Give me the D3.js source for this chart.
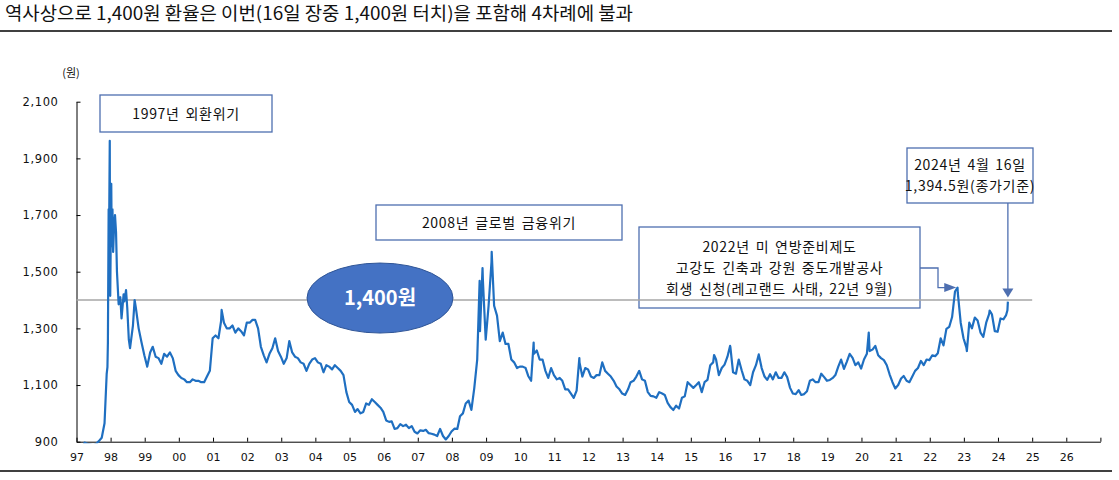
<!DOCTYPE html>
<html>
<head>
<meta charset="utf-8">
<script src="https://cdn.jsdelivr.net/npm/d3@7"></script>
<style>
  body { margin: 0; background: #fff; }
  text { font-family: "Noto Sans CJK KR", sans-serif; }
</style>
</head>
<body>
<svg id="chart"></svg>
<script>
// 원/달러 환율, 월말 기준 (1997~2024.3)
const firstYear = 1997;
const monthlyRates = [
  [861, 864, 897, 892, 891, 888, 892, 902, 914, 965, 1163, 1415],
  [1570, 1640, 1385, 1335, 1395, 1373, 1230, 1310, 1373, 1300, 1250, 1205],
  [1165, 1215, 1235, 1200, 1195, 1175, 1210, 1200, 1215, 1195, 1150, 1135],
  [1125, 1120, 1110, 1110, 1120, 1115, 1115, 1110, 1110, 1130, 1150, 1265],
  [1275, 1265, 1325, 1320, 1300, 1300, 1310, 1285, 1300, 1290, 1275, 1320],
  [1320, 1330, 1330, 1300, 1235, 1205, 1180, 1210, 1230, 1265, 1220, 1200],
  [1175, 1195, 1255, 1215, 1200, 1195, 1180, 1175, 1150, 1175, 1190, 1195],
  [1180, 1175, 1145, 1170, 1165, 1155, 1170, 1160, 1150, 1135, 1075, 1040],
  [1030, 1005, 1015, 1000, 1005, 1035, 1030, 1050, 1040, 1030, 1020, 1005],
  [975, 970, 972, 945, 948, 962, 955, 960, 948, 955, 935, 929],
  [940, 938, 942, 930, 928, 925, 920, 945, 920, 908, 920, 936],
  [946, 945, 990, 1000, 1035, 1045, 1012, 1090, 1190, 1290, 1470, 1260],
  [1380, 1535, 1380, 1345, 1255, 1285, 1245, 1245, 1190, 1180, 1160, 1165],
  [1165, 1160, 1132, 1115, 1210, 1222, 1190, 1190, 1150, 1125, 1160, 1135],
  [1120, 1125, 1115, 1085, 1085, 1070, 1055, 1080, 1180, 1130, 1160, 1155],
  [1130, 1125, 1135, 1135, 1180, 1150, 1140, 1130, 1115, 1095, 1085, 1070],
  [1065, 1085, 1110, 1115, 1130, 1150, 1120, 1115, 1075, 1062, 1060, 1055],
  [1075, 1070, 1065, 1037, 1022, 1012, 1027, 1017, 1055, 1060, 1110, 1100],
  [1090, 1100, 1110, 1075, 1110, 1118, 1170, 1180, 1190, 1135, 1160, 1172],
  [1200, 1235, 1145, 1140, 1190, 1152, 1120, 1115, 1100, 1145, 1170, 1208],
  [1160, 1130, 1118, 1138, 1120, 1145, 1125, 1125, 1145, 1128, 1090, 1070],
  [1068, 1082, 1065, 1068, 1078, 1115, 1120, 1110, 1110, 1140, 1128, 1115],
  [1118, 1125, 1135, 1165, 1190, 1157, 1182, 1210, 1196, 1170, 1180, 1158],
  [1190, 1210, 1220, 1225, 1238, 1205, 1195, 1188, 1170, 1138, 1110, 1088],
  [1100, 1123, 1132, 1115, 1110, 1130, 1150, 1160, 1185, 1170, 1190, 1188],
  [1205, 1202, 1212, 1265, 1240, 1298, 1305, 1340, 1430, 1425, 1320, 1265],
  [1232, 1320, 1300, 1338, 1328, 1285, 1270, 1320, 1350, 1350, 1290, 1288],
  [1335, 1332, 1347]
];

// 급등락 구간의 일별 값
const spikeDates = [
  "1997-11-20", "1997-12-03", "1997-12-11", "1997-12-15", "1997-12-23", "1997-12-26",
  "1998-01-08", "1998-01-13", "1998-01-21", "1998-02-06", "1998-02-17", "1998-03-10",
  "1998-04-15", "1998-05-20", "1998-06-15", "1998-07-15", "1998-09-15",
  "2001-04-03", "2008-10-24", "2008-11-24", "2009-03-02", "2010-05-25", "2011-09-26",
  "2015-09-07", "2016-02-25", "2020-03-19", "2022-10-25", "2023-02-02", "2023-10-04",
  "2024-04-11", "2024-04-16"
];
const spikeRates = [
  1139, 1250, 1720, 1600, 1962, 1500,
  1810, 1590, 1720, 1650, 1700, 1500,
  1410, 1420, 1435, 1260, 1400,
  1365, 1468, 1513, 1570, 1250, 1195,
  1206, 1238, 1285, 1444, 1220, 1363,
  1364, 1394.5
];

const rateTicks = [900, 1100, 1300, 1500, 1700, 1900, 2100];
const yearTickLabels = ["97", "98", "99", "00", "01", "02", "03", "04", "05", "06", "07", "08",
  "09", "10", "11", "12", "13", "14", "15", "16", "17", "18", "19", "20", "21", "22", "23",
  "24", "25", "26", ""];

const refRate = 1400;
const lastDate = "2024-04-16";
const lastRate = 1394.5;
const legoDate = "2022-10-01";
const legoRate = 1444;

const titleText = "역사상으로 1,400원 환율은 이번(16일 장중 1,400원 터치)을 포함해 4차례에 불과";
const notes = [
  { lines: ["1997년 외환위기"], box: [100, 95, 172, 37] },
  { lines: ["2008년 글로벌 금융위기"], box: [376, 205, 246, 35] },
  { lines: ["2022년 미 연방준비제도", "고강도 긴축과 강원 중도개발공사", "회생 신청(레고랜드 사태, 22년 9월)"], box: [639, 227, 281, 81] },
  { lines: ["2024년 4월 16일", "1,394.5원(종가기준)"], box: [907, 148, 126, 55] }
];

const width = 1119, height = 480;
const svg = d3.select('#chart').attr('width', width).attr('height', height);

const parse = d3.timeParse('%Y-%m-%d');
const points = [];
monthlyRates.forEach((row, i) => {
  row.forEach((v, m) => points.push({ date: new Date(firstYear + i, m, 28), rate: v }));
});
spikeDates.forEach((d, i) => points.push({ date: parse(d), rate: spikeRates[i] }));
points.sort((a, b) => a.date - b.date);

const x = d3.scaleTime()
  .domain([new Date(1997, 0, 1), new Date(2027, 0, 1)])
  .range([76.5, 1100.4]);
const y = d3.scaleLinear().domain([900, 2100]).range([441.7, 101.7]);

// 제목
svg.append('text')
  .attr('x', 5).attr('y', 20)
  .attr('font-size', 18)
  .attr('textLength', 628).attr('lengthAdjust', 'spacingAndGlyphs')
  .attr('fill', '#111')
  .text(titleText);
svg.append('line').attr('x1', 0).attr('x2', 1112).attr('y1', 31).attr('y2', 31)
  .attr('stroke', '#000').attr('stroke-width', 1.5);
svg.append('line').attr('x1', 0).attr('x2', 1112).attr('y1', 471).attr('y2', 471)
  .attr('stroke', '#000').attr('stroke-width', 1.5);

// 축
const yearTicks = yearTickLabels.map((_, i) => new Date(firstYear + i, 0, 1));
const xAxis = svg.append('g')
  .attr('transform', `translate(0,${y(900)})`)
  .call(d3.axisBottom(x).tickValues(yearTicks).tickSize(-4).tickSizeOuter(0).tickPadding(12)
    .tickFormat((d, i) => yearTickLabels[i]));
const yAxis = svg.append('g')
  .attr('transform', `translate(${x(new Date(1997, 0, 1))},0)`)
  .call(d3.axisLeft(y).tickValues(rateTicks).tickSize(-4).tickSizeOuter(0).tickPadding(18)
    .tickFormat(d3.format(',')));
[xAxis, yAxis].forEach(g => {
  g.attr('font-family', '"DejaVu Sans", sans-serif').attr('font-size', 11);
  g.selectAll('text').attr('fill', '#111').style('font-family', '"DejaVu Sans", sans-serif');
  g.selectAll('path, line').attr('stroke', '#000');
});
yAxis.selectAll('text').attr('font-size', 11.5).attr('letter-spacing', '0.6px');

svg.append('text').attr('x', 71).attr('y', 77).attr('text-anchor', 'middle')
  .attr('font-size', 11).attr('fill', '#111').text('(원)');

// 주석 박스
const boxColor = '#4e6fb0';
notes.forEach(n => {
  const [bx, by, bw, bh] = n.box;
  svg.append('rect').attr('x', bx).attr('y', by).attr('width', bw).attr('height', bh)
    .attr('fill', '#fff').attr('stroke', boxColor).attr('stroke-width', 1.3);
  const gap = 21;
  const cy = by + bh / 2 - (n.lines.length - 1) * gap / 2;
  n.lines.forEach((t, i) => {
    svg.append('text').attr('x', bx + bw / 2).attr('y', cy + i * gap).attr('dy', '0.36em')
      .attr('text-anchor', 'middle').attr('font-size', 14).attr('letter-spacing', '0.7px')
      .attr('word-spacing', '2px').attr('fill', '#111').text(t);
  });
});

// 1,400원 기준선
svg.append('line')
  .attr('x1', x(new Date(1997, 0, 1))).attr('x2', x(new Date(2025, 0, 1)))
  .attr('y1', y(refRate)).attr('y2', y(refRate))
  .attr('stroke', '#a6a6a6').attr('stroke-width', 1.6);

// 환율 선
svg.append('clipPath').attr('id', 'plot-clip').append('rect')
  .attr('x', 76).attr('y', 90).attr('width', 1030).attr('height', y(900) - 90 + 1.5);
svg.append('path').datum(points)
  .attr('clip-path', 'url(#plot-clip)')
  .attr('fill', 'none')
  .attr('stroke', '#1f6fc1')
  .attr('stroke-width', 2.2)
  .attr('stroke-linejoin', 'round')
  .attr('d', d3.line().x(d => x(d.date)).y(d => y(d.rate)));

// 1,400원 타원
svg.append('ellipse').attr('cx', 380).attr('cy', y(refRate) - 2).attr('rx', 73).attr('ry', 35)
  .attr('fill', '#4472c4').attr('stroke', '#2f5597').attr('stroke-width', 1);
svg.append('text').attr('x', 380).attr('y', y(refRate) - 2).attr('dy', '0.36em')
  .attr('text-anchor', 'middle').attr('font-size', 20).attr('font-weight', 'bold')
  .attr('fill', '#fff').text('1,400원');

// 화살표
const legoX = x(parse(legoDate)), legoY = y(legoRate);
svg.append('path')
  .attr('d', `M920,268H938V${legoY}H${legoX - 10}`)
  .attr('fill', 'none').attr('stroke', boxColor).attr('stroke-width', 1.3);
svg.append('path')
  .attr('d', `M${legoX - 11},${legoY - 4.5}L${legoX + 1},${legoY}L${legoX - 11},${legoY + 4.5}Z`)
  .attr('fill', boxColor);

const lastX = x(parse(lastDate)), lastY = y(lastRate) - 4;
svg.append('line').attr('x1', lastX).attr('x2', lastX).attr('y1', 203).attr('y2', lastY - 8)
  .attr('stroke', boxColor).attr('stroke-width', 1.3);
svg.append('path')
  .attr('d', `M${lastX - 5.5},${lastY - 9}L${lastX},${lastY}L${lastX + 5.5},${lastY - 9}Z`)
  .attr('fill', boxColor);
</script>
</body>
</html>
